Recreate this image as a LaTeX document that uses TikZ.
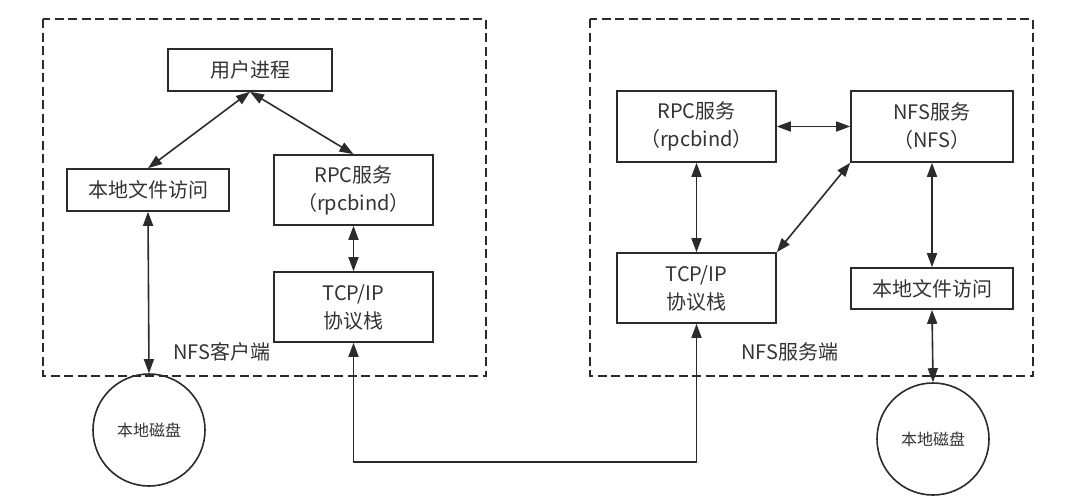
\documentclass[tikz,border=0pt]{standalone}
\usepackage{fontspec}
\setmainfont{Noto Sans CJK SC}
\usetikzlibrary{arrows.meta}
\definecolor{nfsline}{HTML}{2B2B2B}
\definecolor{nfstext}{HTML}{333333}
\tikzset{
  block/.style={rectangle,draw=nfsline,line width=1.6pt,inner sep=0pt,font=\fontsize{20}{28}\selectfont,text=nfstext,align=center},
  disk/.style={circle,draw=nfsline,line width=1.6pt,minimum size=112pt,inner sep=0pt,font=\fontsize{16}{20}\selectfont,text=nfstext},
  zone/.style={draw=nfsline,line width=1.6pt,dash pattern=on 9pt off 4.5pt},
  link/.style={{Triangle[length=14pt,width=10pt]}-{Triangle[length=14pt,width=10pt]},draw=nfsline,line width=1.6pt},
  uplink/.style={-{Triangle[length=14pt,width=10pt]},draw=nfsline,line width=1.6pt},
  tag/.style={font=\fontsize{20}{24}\selectfont,text=nfstext},
}
\begin{document}
\begin{tikzpicture}[x=1pt,y=-1pt]
  \path[use as bounding box] (0,0) rectangle (1075,498);
  \fill[white] (0,0) rectangle (1075,498);
  % client side
  \draw[zone] (43,19) rectangle (486,376);
  \node[block,minimum width=164pt,minimum height=42pt] (user) at (250,70) {用户进程};
  \node[block,minimum width=162pt,minimum height=42pt] (localL) at (148,190) {本地文件访问};
  \node[block,minimum width=159pt,minimum height=70pt] (rpcL) at (353.5,190) {RPC服务\\（rpcbind）};
  \node[block,minimum width=159pt,minimum height=70pt] (tcpL) at (353.5,307) {TCP/IP\\协议栈};
  \node[tag] (client) at (222,352) {NFS客户端};
  \node[disk] (diskL) at (149,430) {本地磁盘};
  \draw[link] (user.south) -- (localL.north);
  \draw[link] (user.south) -- (rpcL.north);
  \draw[link] (rpcL.south) -- (tcpL.north);
  \draw[link] (localL.south) -- (diskL.north);
  % server side
  \draw[zone] (590,19) rectangle (1033,376);
  \node[block,minimum width=159pt,minimum height=71pt] (rpcR) at (696.5,126.5) {RPC服务\\（rpcbind）};
  \node[block,minimum width=162pt,minimum height=71pt] (nfsR) at (932,126.5) {NFS服务\\（NFS）};
  \node[block,minimum width=159pt,minimum height=70pt] (tcpR) at (696.5,288) {TCP/IP\\协议栈};
  \node[block,minimum width=162pt,minimum height=41pt] (localR) at (932,288.5) {本地文件访问};
  \node[tag] (server) at (790,352) {NFS服务端};
  \node[disk] (diskR) at (933,439) {本地磁盘};
  \draw[link] (rpcR.east) -- (nfsR.west);
  \draw[link] (rpcR.south) -- (tcpR.north);
  \draw[link] (nfsR.south west) -- (tcpR.north east);
  \draw[link] (nfsR.south) -- (localR.north);
  \draw[link] (localR.south) -- (diskR.north);
  % network
  \coordinate (wire) at (525,462);
  \draw[uplink] (wire) -| (tcpL.south);
  \draw[uplink] (wire) -| (tcpR.south);
\end{tikzpicture}
\end{document}
